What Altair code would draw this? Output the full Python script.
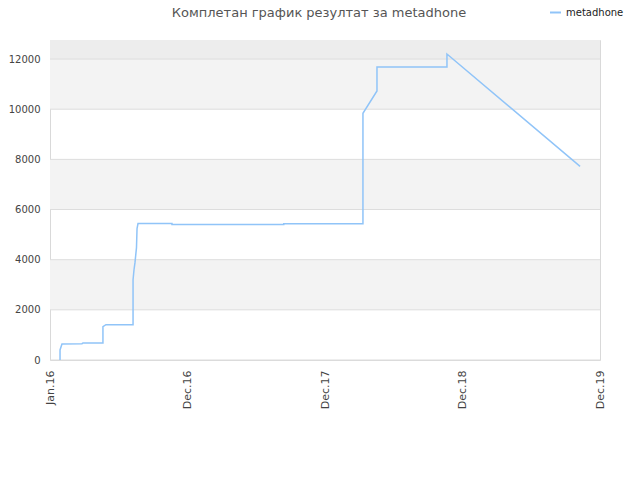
import altair as alt
import pandas as pd

# x positions measured in axis-label units (0 = Jan.16, 1 = Dec.16, ... 4 = Dec.19)
x_pos = [0.073, 0.073, 0.087, 0.233, 0.24, 0.385, 0.385, 0.407, 0.604, 0.604,
         0.611, 0.618, 0.629, 0.633, 0.64, 0.887, 0.887, 1.70, 1.70, 2.276,
         2.276, 2.378, 2.378, 2.887, 2.887, 3.855]
values = [0, 400, 640, 650, 680, 680, 1330, 1410, 1410, 3200,
          3600, 3880, 4480, 5240, 5440, 5440, 5400, 5400, 5430, 5430,
          9840, 10730, 11680, 11680, 12200, 7720]
tick_labels = ["Jan.16", "Dec.16", "Dec.17", "Dec.18", "Dec.19"]
y_ticks = [0, 2000, 4000, 6000, 8000, 10000, 12000]
band_lo = [2000, 6000, 10000, 12000]
band_hi = [4000, 8000, 12000, 12760]
band_col = ["#f3f3f3", "#f3f3f3", "#f3f3f3", "#ededed"]
series = "metadhone"
title_text = "Комплетан график резултат за metadhone"
y_max = 12760

line_df = pd.DataFrame({"x": x_pos, "y": values, "s": [series] * len(x_pos)})
band_df = pd.DataFrame({"lo": band_lo, "hi": band_hi, "c": band_col})
grid_df = pd.DataFrame({"y": y_ticks})
title_df = pd.DataFrame({"t": [title_text]})

label_expr = "[" + ",".join("'%s'" % t for t in tick_labels) + "][round(datum.value)]"

xs = alt.Scale(domain=[0, 4], nice=False, zero=False)
ys = alt.Scale(domain=[0, y_max], nice=False)

bands = alt.Chart(band_df).mark_rect().encode(
    x=alt.value(0), x2=alt.value(550),
    y=alt.Y("lo:Q", scale=ys), y2="hi:Q",
    color=alt.Color("c:N", scale=None),
)

grid = alt.Chart(grid_df).mark_rule(color="#dddddd", strokeWidth=1).encode(
    y=alt.Y("y:Q", scale=ys),
)

title = alt.Chart(title_df).mark_text(
    font="DejaVu Sans", fontSize=13, color="#555555", align="center", baseline="middle"
).encode(text="t:N", x=alt.value(269), y=alt.value(-27))

line = alt.Chart(line_df).mark_line(strokeWidth=1.5, interpolate="linear").encode(
    x=alt.X("x:Q", scale=xs, title=None,
            axis=alt.Axis(values=[0, 1, 2, 3, 4], labelExpr=label_expr, labelAngle=-90,
                          grid=False, ticks=False, domain=False, labelPadding=10,
                          labelFont="DejaVu Sans", labelFontSize=11, labelColor="#444444")),
    y=alt.Y("y:Q", scale=ys, title=None,
            axis=alt.Axis(values=y_ticks, format="d", grid=False, ticks=False, domain=False,
                          labelPadding=10, labelFont="DejaVu Sans", labelFontSize=10,
                          labelColor="#444444")),
    color=alt.Color("s:N", scale=alt.Scale(range=["#90c4f8"]),
                    legend=alt.Legend(title=None, orient="none", legendX=499, legendY=-34,
                                      symbolType="stroke", symbolStrokeWidth=2, symbolSize=120,
                                      labelFont="DejaVu Sans", labelFontSize=10,
                                      labelColor="#222222")),
)

chart = alt.layer(bands, grid, line, title).properties(
    width=550, height=320,
    autosize=alt.AutoSizeParams(type="none"),
    padding={"left": 42, "top": 32, "right": 32, "bottom": 112},
).configure_view(stroke="#d9d9d9", strokeWidth=1)

chart.save("out.html", embed_options={"renderer": "svg", "actions": False})
